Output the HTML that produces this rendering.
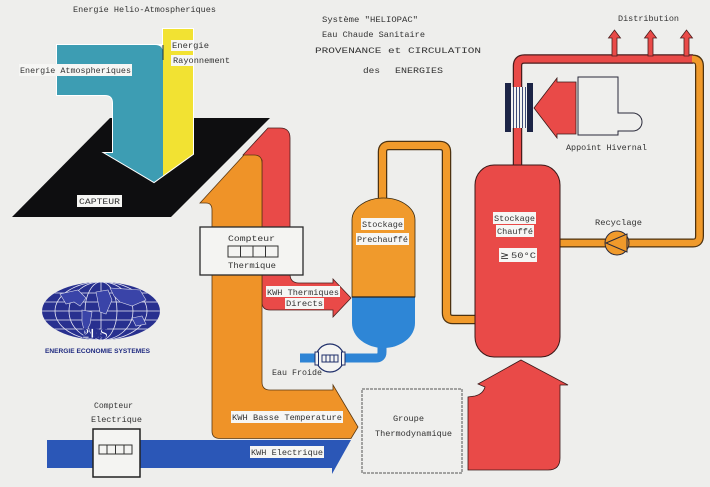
<!DOCTYPE html>
<html><head><meta charset="utf-8"><style>
html,body{margin:0;padding:0;background:#eeeeec;}
svg{display:block;}
text{font-family:"Liberation Mono","DejaVu Sans Mono",monospace;font-size:8.5px;fill:#333;}
</style></head><body>
<svg width="710" height="487" viewBox="0 0 710 487" xmlns="http://www.w3.org/2000/svg">
<rect width="710" height="487" fill="#eeeeec"/>

<!-- Titles -->
<text x="73" y="12" textLength="143" lengthAdjust="spacingAndGlyphs">Energie Helio-Atmospheriques</text>
<text x="322" y="22" textLength="96" lengthAdjust="spacingAndGlyphs">Système "HELIOPAC"</text>
<text x="322" y="37" textLength="103" lengthAdjust="spacingAndGlyphs">Eau Chaude Sanitaire</text>
<text x="315" y="53" textLength="166" lengthAdjust="spacingAndGlyphs">PROVENANCE  et  CIRCULATION</text>
<text x="363" y="73" textLength="17" lengthAdjust="spacingAndGlyphs">des</text>
<text x="395" y="73" textLength="48" lengthAdjust="spacingAndGlyphs">ENERGIES</text>

<!-- Capteur (black parallelogram) -->
<polygon points="110,118 270,118 171,217 12,217" fill="#0e0e10"/>

<!-- teal + yellow arrow -->
<path d="M57,45 L163,45 L163,29 L193,29 L193,154 L154,182 L105,153 L113,153 L113,103 Q113,95 105,95 L57,95 Z" fill="none" stroke="#ffffff" stroke-width="2"/>
<path d="M57,45 L155,45 Q163,45 163,53 L163,175.5 L154,182 L105,153 L113,153 L113,103 Q113,95 105,95 L57,95 Z" fill="#3d9db3"/>
<path d="M163,29 L193,29 L193,154 L163,175.5 Z" fill="#f2e232"/>
<line x1="163" y1="45" x2="163" y2="60" stroke="#1b3340" stroke-width="1"/>

<rect x="19" y="64" width="113" height="12" fill="#f6f6f4"/>
<text x="20" y="73" textLength="111" lengthAdjust="spacingAndGlyphs">Energie Atmospheriques</text>
<rect x="171" y="40" width="22" height="11" fill="#f6f6f4"/>
<text x="172" y="48" textLength="37" lengthAdjust="spacingAndGlyphs">Energie</text>
<rect x="171" y="55" width="22" height="11" fill="#f6f6f4"/>
<text x="173" y="63" textLength="57" lengthAdjust="spacingAndGlyphs">Rayonnement</text>

<rect x="77" y="195" width="45" height="12" fill="#f6f6f4"/>
<text x="79" y="204" textLength="41" lengthAdjust="spacingAndGlyphs">CAPTEUR</text>

<!-- Red arrow (thermiques directs) -->
<path d="M243,155 L268,128 L280,128 Q290,128 290,138 L290,274 Q290,283 299,283 L333,283 L333,279 L351,298 L333,317 L333,310 L270,310 Q262,310 262,302 L262,160 Z" fill="#e94a48" stroke="#4a1e1e" stroke-width="0.8"/>

<!-- Orange arrow (basse temperature) -->
<path d="M200,203 L244,155 L254,155 Q262,155 262,163 L262,382 Q262,390 270,390 L333,390 L333,385 L358,427 L351,438.5 L220,438.5 Q212,438.5 212,431 L212,210 Q212,203 206,203 Z" fill="#ef9328" stroke="#5a3812" stroke-width="0.8"/>

<!-- Blue electric arrow -->
<path d="M47,440 L351,440 L332,474 L332,468 L47,468 Z" fill="#2b57b7"/>

<!-- Compteur thermique -->
<rect x="200" y="227" width="103" height="48" fill="#f4f4f2" stroke="#2a2a2a" stroke-width="1.3"/>
<text x="228" y="241" textLength="47" lengthAdjust="spacingAndGlyphs">Compteur</text>
<g fill="none" stroke="#333" stroke-width="1">
<rect x="228" y="246" width="50" height="11"/>
<line x1="240.5" y1="246" x2="240.5" y2="257"/><line x1="253" y1="246" x2="253" y2="257"/><line x1="265.5" y1="246" x2="265.5" y2="257"/>
</g>
<text x="228" y="268" textLength="48" lengthAdjust="spacingAndGlyphs">Thermique</text>

<!-- KWH Thermiques labels -->
<rect x="266" y="286" width="74" height="11" fill="#f6f6f4"/>
<text x="267" y="295" textLength="72" lengthAdjust="spacingAndGlyphs">KWH Thermiques</text>
<rect x="285" y="298" width="39" height="11" fill="#f6f6f4"/>
<text x="286" y="306" textLength="37" lengthAdjust="spacingAndGlyphs">Directs</text>

<!-- KWH Basse Temperature / Electrique -->
<rect x="231" y="411" width="112" height="12" fill="#f6f6f4"/>
<text x="232" y="420" textLength="110" lengthAdjust="spacingAndGlyphs">KWH Basse Temperature</text>
<rect x="250" y="446" width="74" height="12" fill="#f6f6f4"/>
<text x="251" y="455" textLength="72" lengthAdjust="spacingAndGlyphs">KWH Electrique</text>

<!-- Compteur electrique -->
<text x="94" y="408" textLength="39" lengthAdjust="spacingAndGlyphs">Compteur</text>
<text x="91" y="422" textLength="51" lengthAdjust="spacingAndGlyphs">Electrique</text>
<rect x="93" y="429" width="47" height="48" fill="#f4f4f2" stroke="#222" stroke-width="1.5"/>
<g fill="none" stroke="#333" stroke-width="1">
<rect x="99" y="445" width="33" height="9"/>
<line x1="107" y1="445" x2="107" y2="454"/><line x1="115.5" y1="445" x2="115.5" y2="454"/><line x1="124" y1="445" x2="124" y2="454"/>
</g>

<!-- Groupe thermodynamique -->
<rect x="362" y="389" width="100" height="84" fill="#efefed" stroke="#555" stroke-width="1" stroke-dasharray="3,1"/>
<text x="393" y="421" textLength="31" lengthAdjust="spacingAndGlyphs" fill="#555">Groupe</text>
<text x="375" y="436" textLength="77" lengthAdjust="spacingAndGlyphs" fill="#555">Thermodynamique</text>

<!-- Orange pipe between tanks -->
<path d="M382.5,205 L382.5,152 Q382.5,145.5 389,145.5 L440,145.5 Q446.5,145.5 446.5,152 L446.5,313 Q446.5,319.5 453,319.5 L480,319.5" fill="none" stroke="#4d3210" stroke-width="9.5"/>
<path d="M382.5,205 L382.5,152 Q382.5,145.5 389,145.5 L440,145.5 Q446.5,145.5 446.5,152 L446.5,313 Q446.5,319.5 453,319.5 L480,319.5" fill="none" stroke="#f19a2b" stroke-width="7"/>

<!-- Blue cold water pipe -->
<path d="M382,340 L382,352 Q382,358 376,358 L300,358" fill="none" stroke="#2e84d5" stroke-width="9"/>

<!-- Preheat tank -->
<path d="M352,220 A31.5,22 0 0 1 415,220 L415,297 L352,297 Z" fill="#f09a2c" stroke="#3a2a10" stroke-width="0.8"/>
<path d="M352,297 L415,297 L415,323 A31.5,25 0 0 1 352,323 Z" fill="#2e86d6"/>
<line x1="352" y1="297" x2="415" y2="297" stroke="#222" stroke-width="1.2"/>
<rect x="361" y="218" width="43" height="12" fill="#f6f6f4"/>
<text x="362" y="227" textLength="41" lengthAdjust="spacingAndGlyphs">Stockage</text>
<rect x="356" y="233" width="53" height="12" fill="#f6f6f4"/>
<text x="357" y="242" textLength="51" lengthAdjust="spacingAndGlyphs">Prechauffé</text>

<!-- Water meter -->
<circle cx="330" cy="358" r="14" fill="#f4f4f2" stroke="#1f2f6a" stroke-width="1.2"/>
<rect x="315" y="352" width="3.5" height="13" fill="#f4f4f2" stroke="#1f2f6a" stroke-width="1"/>
<rect x="341.5" y="352" width="3.5" height="13" fill="#f4f4f2" stroke="#1f2f6a" stroke-width="1"/>
<g fill="none" stroke="#1f2f6a" stroke-width="1">
<rect x="322" y="355" width="16" height="7"/>
<line x1="326" y1="355" x2="326" y2="362"/><line x1="330" y1="355" x2="330" y2="362"/><line x1="334" y1="355" x2="334" y2="362"/>
</g>
<text x="272" y="375" textLength="50" lengthAdjust="spacingAndGlyphs">Eau Froide</text>

<!-- Hot circuit pipes -->
<path d="M517.5,170 L517.5,66 Q517.5,59 524.5,59 L693,59" fill="none" stroke="#4a1c1c" stroke-width="9.5"/>
<path d="M693,59 Q699.5,59 699.5,66 L699.5,236 Q699.5,243 693,243 L555,243" fill="none" stroke="#4d3210" stroke-width="9"/>
<path d="M517.5,170 L517.5,66 Q517.5,59 524.5,59 L693,59" fill="none" stroke="#e94a48" stroke-width="7"/>
<path d="M692,59 Q699.5,59 699.5,66 L699.5,236 Q699.5,243 693,243 L555,243" fill="none" stroke="#f09a2b" stroke-width="6.5"/>

<!-- Distribution arrows -->
<g fill="#e94a48" stroke="#4a1c1c" stroke-width="0.8">
<path d="M612,56 L612,38 L608.5,38 L614.5,30 L620.5,38 L617,38 L617,56 Z"/>
<path d="M648,56 L648,38 L644.5,38 L650.5,30 L656.5,38 L653,38 L653,56 Z"/>
<path d="M684,56 L684,38 L680.5,38 L686.5,30 L692.5,38 L689,38 L689,56 Z"/>
</g>
<text x="618" y="21" textLength="61" lengthAdjust="spacingAndGlyphs">Distribution</text>

<!-- Heat exchanger -->
<rect x="511" y="87" width="16" height="41" fill="#f4f4f2"/>
<g stroke="#2a3a6a" stroke-width="0.9">
<line x1="513.5" y1="87" x2="513.5" y2="128"/><line x1="516.5" y1="87" x2="516.5" y2="128"/><line x1="519.5" y1="87" x2="519.5" y2="128"/><line x1="522.5" y1="87" x2="522.5" y2="128"/><line x1="525.5" y1="87" x2="525.5" y2="128"/>
</g>
<rect x="505" y="83" width="6" height="49" fill="#1c2446"/>
<rect x="527" y="83" width="6" height="49" fill="#1c2446"/>

<!-- Heating arrow -->
<polygon points="534,108 557,78 557,82 576,82 576,134 557,134 557,138" fill="#e94a48" stroke="#3a1818" stroke-width="0.8"/>

<!-- Appoint hivernal -->
<path d="M578,77 L618,77 L618,113 L633,113 A9,9 0 1 1 633,131 L618,131 L618,135 L578,135 Z" fill="#efefed" stroke="#2a2a3a" stroke-width="1"/>
<text x="566" y="150" textLength="81" lengthAdjust="spacingAndGlyphs">Appoint Hivernal</text>

<!-- Heated tank -->
<rect x="475" y="165" width="85" height="192" rx="19" ry="20" fill="#e94a48" stroke="#3a1818" stroke-width="1"/>
<rect x="493" y="212" width="43" height="12" fill="#f6f6f4"/>
<text x="494" y="221" textLength="41" lengthAdjust="spacingAndGlyphs">Stockage</text>
<rect x="496" y="225" width="38" height="12" fill="#f6f6f4"/>
<text x="497" y="234" textLength="36" lengthAdjust="spacingAndGlyphs">Chauffé</text>
<rect x="499" y="248" width="38" height="14" fill="#f6f6f4"/>
<text x="500" y="259" font-size="11" style="font-family:'DejaVu Sans',sans-serif;font-size:11px">≥</text>
<text x="511" y="258" textLength="25" lengthAdjust="spacingAndGlyphs">50°C</text>

<!-- Pump -->
<circle cx="617" cy="243" r="12" fill="#f09a2b" stroke="#2a2a3a" stroke-width="1"/>
<polygon points="606,243 627,234 627,252" fill="#f09a2b" stroke="#2a2a3a" stroke-width="1"/>
<text x="595" y="225" textLength="47" lengthAdjust="spacingAndGlyphs">Recyclage</text>

<!-- Red up arrow from groupe -->
<path d="M521,360 L568,385 L560,385 L560,458 Q560,470 548,470 L468,470 L468,397 L475,396 Q483,394 485,387 L478,384 Z" fill="#e94a48" stroke="#3a1818" stroke-width="0.8"/>

<!-- Logo -->
<defs><clipPath id="g"><ellipse cx="101" cy="311" rx="59" ry="29"/></clipPath></defs>
<ellipse cx="101" cy="311" rx="59" ry="29" fill="#28308f"/>
<g clip-path="url(#g)" fill="none" stroke="#e8e8f4" stroke-width="0.8">
<ellipse cx="101" cy="311" rx="46" ry="29"/>
<ellipse cx="101" cy="311" rx="32" ry="29"/>
<ellipse cx="101" cy="311" rx="16" ry="29"/>
<line x1="101" y1="280" x2="101" y2="342"/>
<line x1="40" y1="293" x2="162" y2="293"/>
<line x1="40" y1="302" x2="162" y2="302"/>
<line x1="40" y1="311" x2="162" y2="311"/>
<line x1="40" y1="320" x2="162" y2="320"/>
<line x1="40" y1="329" x2="162" y2="329"/>
</g>
<g clip-path="url(#g)" fill="#3a44a8" stroke="#dcdcee" stroke-width="0.6">
<path d="M60,294 L78,290 L86,298 L80,306 L74,302 L66,304 Z"/>
<path d="M82,310 L92,312 L90,324 L85,334 L82,322 Z"/>
<path d="M96,292 L108,290 L112,300 L106,314 L100,312 L98,302 Z"/>
<path d="M110,288 L140,290 L146,300 L132,306 L120,302 L114,296 Z"/>
<path d="M132,318 L142,316 L146,324 L136,326 Z"/>
</g>
<text x="95" y="338" text-anchor="middle" style="font-family:'Liberation Serif',serif;font-size:15px;font-weight:bold;fill:#ffffff;stroke:#28308f;stroke-width:0.8">2ES</text>
<text x="45" y="353" textLength="105" lengthAdjust="spacingAndGlyphs" style="font-family:'Liberation Sans',sans-serif;font-size:6.5px;fill:#1f2a80;font-weight:bold">ENERGIE ECONOMIE SYSTEMES</text>

</svg>
</body></html>
